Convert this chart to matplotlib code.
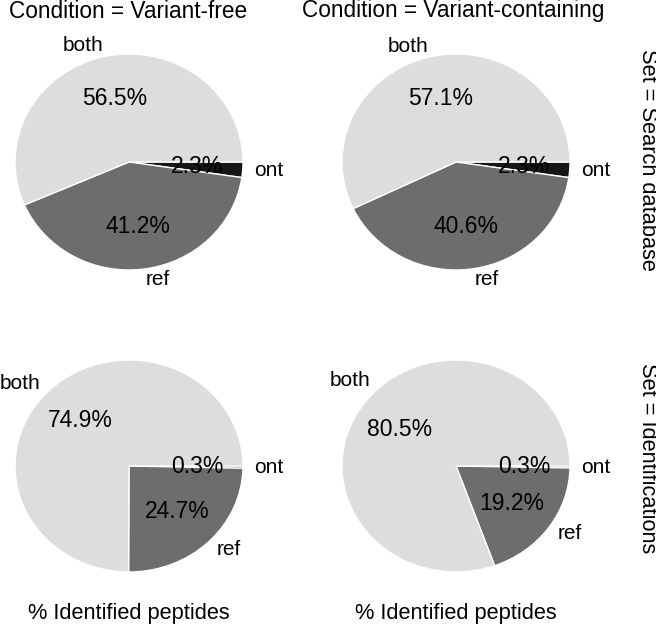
"""2x2 pie grid: peptide origin per condition and set."""
import numpy as np
import matplotlib
matplotlib.use("Agg")
import matplotlib.pyplot as plt

plt.rcParams["font.family"] = ["Liberation Sans", "DejaVu Sans"]

# data (percent of peptides), wedge order ont, ref, both
categories = ["ont", "ref", "both"]
conditions = ["Variant-free", "Variant-containing"]
sets = ["Search database", "Identifications"]
search_free = [2.3, 41.2, 56.5]
search_variant = [2.3, 40.6, 57.1]
ident_free = [0.34, 24.72, 74.94]
ident_variant = [0.3, 19.2, 80.5]
colors = ["#161616", "#6d6d6d", "#dddddd"]

W, H = 656, 627
fig = plt.figure(figsize=(W / 100, H / 100), dpi=100)
fig.patch.set_facecolor("white")

# pixel centres / radii of each pie (from top-left of image)
cols_x = [129, 456]
rows_y = [162, 466]
rx = 114
rys = [108, 106]

grid = [[search_free, search_variant], [ident_free, ident_variant]]

for r in range(2):
    for c in range(2):
        cx, cy, ry = cols_x[c], rows_y[r], rys[r]
        ax = fig.add_axes([(cx - rx) / W, (H - cy - ry) / H, 2 * rx / W, 2 * ry / H])
        wedges, texts, autotexts = ax.pie(
            grid[r][c], labels=categories, colors=colors, startangle=0,
            counterclock=False, autopct="%.1f%%", pctdistance=0.6,
            labeldistance=1.1,
            wedgeprops=dict(edgecolor="white", linewidth=1),
            textprops=dict(fontsize=15, color="black"))
        for w in wedges:
            w.set_clip_on(False)
        for t in autotexts:
            t.set_fontsize(16.5)
        if r == 1 and c == 1:
            # label sits higher in the reference
            a = np.deg2rad(133)
            texts[2].set_position((1.1 * np.cos(a), 1.1 * np.sin(a)))
        ax.set_aspect("auto")
        ax.set_xlim(-1, 1)
        ax.set_ylim(-1, 1)
        ax.axis("off")

# column titles
for c, cond in enumerate(conditions):
    fig.text([128, 453][c] / W, 1 - 17.5 / H, f"Condition = {cond}",
             ha="center", va="baseline", fontsize=16.3)
    fig.text(cols_x[c] / W, 1 - 619 / H, "% Identified peptides",
             ha="center", va="baseline", fontsize=15.7)

# row titles on the right
for r, s in enumerate(sets):
    fig.text(647 / W, 1 - [160, 458][r] / H, f"Set = {s}",
             ha="center", va="center", rotation=-90, fontsize=15.7)

plt.savefig("out.png", dpi=100, facecolor="white")
